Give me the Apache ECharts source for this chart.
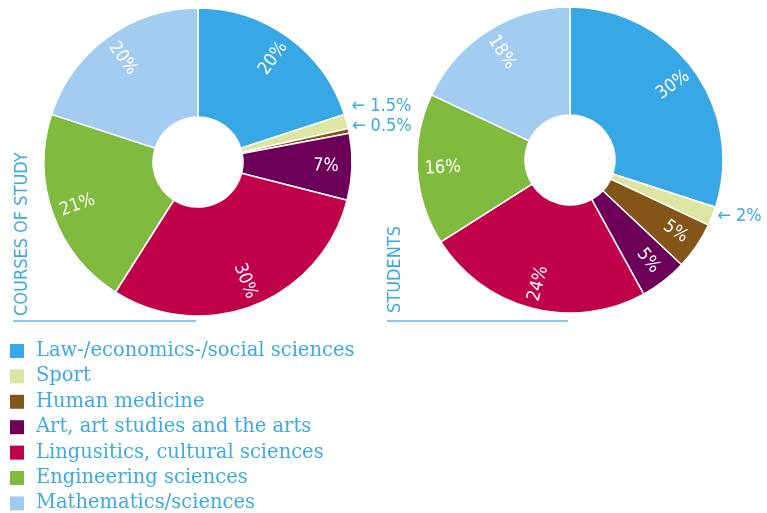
<!DOCTYPE html>
<html>
<head>
<meta charset="utf-8">
<script src="https://cdn.jsdelivr.net/npm/echarts@6/dist/echarts.min.js"></script>
<style>
  html, body { margin: 0; padding: 0; background: #fff; }
  #chart { width: 767px; height: 513px; }
</style>
</head>
<body>
<div id="chart"></div>
<script>
const categories = [
  "Law-/economics-/social sciences",
  "Sport",
  "Human medicine",
  "Art, art studies and the arts",
  "Lingusitics, cultural sciences",
  "Engineering sciences",
  "Mathematics/sciences",
];
const coursesValues = [20, 1.5, 0.5, 7, 30, 21, 20];
const studentsValues = [30, 2, 5, 5, 24, 16, 18];
const colors = ["#37a7e6", "#dce6a2", "#845519", "#6c0059", "#c1004a", "#80ba3f", "#a2cdf1"];

const blue = "#3ba9e6";
const chart = echarts.init(document.getElementById("chart"));

// small slices get an outside "← x%" label, the rest go in a label ring
const isSmall = (v) => v < 3;

function sliceSeries(values, center, radius, labelDy) {
  return {
    type: "pie",
    center: center,
    radius: radius,
    startAngle: 90,
    silent: true,
    avoidLabelOverlap: true,
    itemStyle: { borderColor: "#fff", borderWidth: 1.5 },
    labelLine: { show: false, length: 0, length2: 0 },
    labelLayout: { dy: labelDy },
    data: values.map((v, i) => ({
      name: categories[i],
      value: v,
      itemStyle: { color: colors[i] },
      label: {
        show: isSmall(v),
        position: "outside",
        distance: 1,
        overflow: "none",
        formatter: "← {c}%",
        color: blue,
        fontFamily: "DejaVu Sans Condensed, DejaVu Sans",
        fontSize: 18,
      },
    })),
  };
}

function labelSeries(values, center, radius) {
  return {
    type: "pie",
    center: center,
    radius: radius,
    startAngle: 90,
    silent: true,
    itemStyle: { color: "transparent" },
    label: {
      position: "inside",
      rotate: "radial",
      formatter: "{c}%",
      color: "#fff",
      fontFamily: "DejaVu Sans Condensed, DejaVu Sans",
      fontSize: 18,
    },
    labelLine: { show: false },
    data: values.map((v, i) => ({
      name: categories[i],
      value: v,
      label: { show: !isSmall(v) },
    })),
  };
}

chart.setOption({
  animation: false,
  legend: {
    orient: "vertical",
    left: 10,
    top: 341,
    height: 200,
    padding: 0,
    icon: "rect",
    itemWidth: 14,
    itemHeight: 14,
    itemGap: 5.4,
    itemStyle: { borderWidth: 0 },
    data: categories,
    textStyle: {
      color: blue,
      fontFamily: "DejaVu Serif",
      fontSize: 19.5,
      lineHeight: 20,
      padding: [0, 0, 0, 7],
    },
  },
  graphic: [
    {
      type: "text",
      x: 13,
      y: 316,
      rotation: Math.PI / 2,
      style: {
        text: "COURSES OF STUDY",
        fill: blue,
        font: "18px 'DejaVu Sans Condensed', 'DejaVu Sans'",
      },
    },
    {
      type: "text",
      x: 386,
      y: 313,
      rotation: Math.PI / 2,
      style: {
        text: "STUDENTS",
        fill: blue,
        font: "18px 'DejaVu Sans Condensed', 'DejaVu Sans'",
      },
    },
    {
      type: "line",
      shape: { x1: 13, y1: 321, x2: 196, y2: 321 },
      style: { stroke: "#8fc6ee", lineWidth: 2 },
    },
    {
      type: "line",
      shape: { x1: 387, y1: 321, x2: 568, y2: 321 },
      style: { stroke: "#8fc6ee", lineWidth: 2 },
    },
  ],
  series: [
    sliceSeries(coursesValues, [198, 162], [45, 154], -15),
    sliceSeries(studentsValues, [570, 160], [45, 153], 0),
    labelSeries(coursesValues, [198, 162], [96, 154]),
    labelSeries(studentsValues, [570, 160], [96, 153]),
  ],
});
</script>
</body>
</html>
